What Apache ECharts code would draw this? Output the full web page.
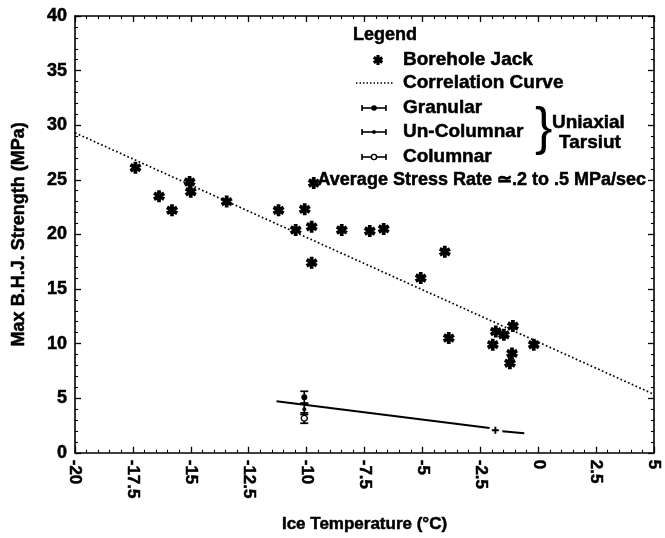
<!DOCTYPE html>
<html><head><meta charset="utf-8">
<script src="https://cdn.jsdelivr.net/npm/echarts@6/dist/echarts.min.js"></script>
<style>html,body{margin:0;padding:0;background:#fff}#c{width:665px;height:538px}</style>
</head><body><div id="c"></div>
<script>
// ---- data ----
const xTicks = [-20, -17.5, -15, -12.5, -10, -7.5, -5, -2.5, 0, 2.5, 5];
const yTicks = [0, 5, 10, 15, 20, 25, 30, 35, 40];
const boreholeT = [-17.39, -16.37, -15.81, -15.05, -15.0, -13.45, -11.21, -10.47, -10.08, -9.78, -9.69, -9.78, -8.48, -7.27, -6.67, -5.07, -4.03, -3.86, -1.96, -1.83, -1.48, -1.09, -1.13, -1.22, -0.19];
const boreholeS = [26.1, 23.5, 22.2, 24.8, 23.9, 23.0, 22.2, 20.4, 22.3, 20.7, 24.7, 17.4, 20.4, 20.3, 20.5, 16.0, 18.4, 10.5, 9.9, 11.1, 10.8, 11.6, 9.1, 8.2, 9.9];
const corrT = [-20, 5];
const corrS = [29.3, 5.35];
const trend1T = [-11.3, -2.1];
const trend1S = [4.71, 2.27];
const trend2T = [-1.55, -0.6];
const trend2S = [1.97, 1.78];
const plusT = [-1.85];
const plusS = [2.06];
const uniaxialT = -10.1;
const granular = [5.08, 4.55, 5.63];   // value, low, high
const unColumnar = [3.98, 3.5, 4.5];
const columnar = [3.16, 2.7, 3.65];

const pairs = (a, b) => a.map((v, i) => [v, b[i]]);
const ASTER = 'path://M3.4 0L6.6 0L6.6 10L3.4 10Z M1.5 1.05L10.17 6.05L8.57 8.83L-0.1 3.83Z M10.17 3.95L1.5 8.95L-0.1 6.17L8.57 1.17Z';
const PLUS = 'path://M3.6 0L6.4 0L6.4 3.6L10 3.6L10 6.4L6.4 6.4L6.4 10L3.6 10L3.6 6.4L0 6.4L0 3.6L3.6 3.6Z';
const INK = '#000';
const FONT = '"Liberation Sans", Arial, sans-serif';

const chart = echarts.init(document.getElementById('c'), null, {renderer: 'canvas'});

const axisCommon = {
  type: 'value',
  axisLine: {show: true, onZero: false, lineStyle: {color: INK, width: 1.6}},
  axisTick: {show: true, inside: true, length: 6, lineStyle: {color: INK, width: 1.3}},
  minorTick: {show: true, splitNumber: 5, length: 3, lineStyle: {color: INK, width: 1.1}},
  splitLine: {show: false},
  minorSplitLine: {show: false}
};

const ebData = [
  [uniaxialT, granular[1], granular[2]],
  [uniaxialT, unColumnar[1], unColumnar[2]],
  [uniaxialT, columnar[1], columnar[2]]
];

const legendX = 356, legendTextX = 403;
function ebIcon(y, kind) {
  const els = [
    {type: 'line', shape: {x1: 362, y1: y, x2: 386, y2: y}, style: {stroke: INK, lineWidth: 1.6}},
    {type: 'line', shape: {x1: 362, y1: y - 3, x2: 362, y2: y + 3}, style: {stroke: INK, lineWidth: 1.6}},
    {type: 'line', shape: {x1: 386, y1: y - 3, x2: 386, y2: y + 3}, style: {stroke: INK, lineWidth: 1.6}}
  ];
  if (kind === 'filled') els.push({type: 'circle', shape: {cx: 374, cy: y, r: 2.8}, style: {fill: INK}});
  if (kind === 'small') els.push({type: 'circle', shape: {cx: 374, cy: y, r: 1.9}, style: {fill: INK}});
  if (kind === 'open') els.push({type: 'circle', shape: {cx: 374, cy: y, r: 2.6}, style: {fill: '#fff', stroke: INK, lineWidth: 1.4}});
  return els;
}
function asteriskIcon(cx, cy, s) {
  const base = [
    [[3.4, 0], [6.6, 0], [6.6, 10], [3.4, 10]],
    [[1.5, 1.05], [10.17, 6.05], [8.57, 8.83], [-0.1, 3.83]],
    [[10.17, 3.95], [1.5, 8.95], [-0.1, 6.17], [8.57, 1.17]]
  ];
  return base.map(poly => ({type: 'polygon',
    shape: {points: poly.map(p => [cx + (p[0] - 5) * s / 10, cy + (p[1] - 5) * s / 10])},
    style: {fill: INK}}));
}
const txt = (x, y, s, size, align) => ({type: 'text', x: x, y: y,
  style: {text: s, fill: INK, font: 'bold ' + size + 'px ' + FONT,
    stroke: INK, lineWidth: 0.5,
    align: align || 'left', textAlign: align || 'left', verticalAlign: 'middle', textVerticalAlign: 'middle'}});

const graphics = [
  txt(353, 35, 'Legend', 18),
  ...asteriskIcon(378, 60, 10),
  txt(legendTextX, 60, 'Borehole Jack', 19),
  {type: 'line', shape: {x1: legendX, y1: 83, x2: 394, y2: 83}, style: {stroke: INK, lineWidth: 1.5, lineDash: [1.5, 2]}},
  txt(legendTextX, 83, 'Correlation Curve', 19),
  ...ebIcon(108, 'filled'),
  txt(legendTextX, 108, 'Granular', 19),
  ...ebIcon(132, 'small'),
  txt(legendTextX, 132, 'Un-Columnar', 19),
  ...ebIcon(157, 'open'),
  txt(legendTextX, 157, 'Columnar', 19),
  {type: 'text', x: 535, y: 130, style: {text: '}', fill: INK, font: 'normal 52px ' + FONT,
    align: 'left', textAlign: 'left', verticalAlign: 'middle', textVerticalAlign: 'middle'}},
  txt(552, 123, 'Uniaxial', 19),
  txt(559, 143, 'Tarsiut', 19),
  txt(646, 180, 'Average Stress Rate \u2243.2 to .5 MPa/sec', 18, 'right')
];

const labelStyle = {color: INK, fontFamily: FONT, fontWeight: 'bold', textBorderColor: INK, textBorderWidth: 0.5};

const option = {
  backgroundColor: '#fff',
  animation: false,
  grid: {left: 75, top: 16, width: 579, height: 437},
  xAxis: [
    Object.assign({}, axisCommon, {
      position: 'bottom', min: -20, max: 5, interval: 2.5,
      axisLabel: Object.assign({show: true, rotate: -90, margin: 7, fontSize: 17, formatter: v => String(v)}, labelStyle),
      name: 'Ice Temperature (\u00B0C)', nameLocation: 'middle', nameGap: 63,
      nameTextStyle: Object.assign({fontSize: 17}, labelStyle)
    }),
    Object.assign({}, axisCommon, {position: 'top', min: -20, max: 5, interval: 2.5, axisLabel: {show: false}})
  ],
  yAxis: [
    Object.assign({}, axisCommon, {
      position: 'left', min: 0, max: 40, interval: 5,
      axisLabel: Object.assign({show: true, margin: 8, fontSize: 18}, labelStyle),
      name: 'Max B.H.J. Strength (MPa)', nameLocation: 'middle', nameGap: 47,
      nameTextStyle: Object.assign({fontSize: 18}, labelStyle)
    }),
    Object.assign({}, axisCommon, {position: 'right', min: 0, max: 40, interval: 5, axisLabel: {show: false}})
  ],
  series: [
    {name: 'Correlation Curve', type: 'line', data: pairs(corrT, corrS), symbol: 'none',
      lineStyle: {color: INK, width: 1.7, type: [1.7, 2.4]}, z: 2},
    {name: 'Uniaxial trend', type: 'line', data: pairs(trend1T, trend1S), symbol: 'none',
      lineStyle: {color: INK, width: 2}, z: 2},
    {name: 'Uniaxial trend 2', type: 'line', data: pairs(trend2T, trend2S), symbol: 'none',
      lineStyle: {color: INK, width: 2}, z: 2},
    {name: 'Plus', type: 'scatter', data: pairs(plusT, plusS), symbol: PLUS, symbolSize: 7,
      itemStyle: {color: INK, opacity: 1}, z: 3},
    {name: 'Borehole Jack', type: 'scatter', data: pairs(boreholeT, boreholeS), symbol: ASTER, symbolSize: 12,
      itemStyle: {color: INK, opacity: 1}, z: 4},
    {name: 'Error bars', type: 'custom', data: ebData, z: 3,
      renderItem: function (params, api) {
        const x = api.value(0);
        const lo = api.coord([x, api.value(1)]);
        const hi = api.coord([x, api.value(2)]);
        const w = 4;
        return {type: 'group', children: [
          {type: 'line', shape: {x1: lo[0], y1: lo[1], x2: hi[0], y2: hi[1]}, style: {stroke: INK, lineWidth: 1.7}},
          {type: 'line', shape: {x1: lo[0] - w, y1: lo[1], x2: lo[0] + w, y2: lo[1]}, style: {stroke: INK, lineWidth: 1.7}},
          {type: 'line', shape: {x1: hi[0] - w, y1: hi[1], x2: hi[0] + w, y2: hi[1]}, style: {stroke: INK, lineWidth: 1.7}}
        ]};
      }},
    {name: 'Granular', type: 'scatter', data: [[uniaxialT, granular[0]]], symbol: 'circle', symbolSize: 6,
      itemStyle: {color: INK, opacity: 1}, z: 5},
    {name: 'Un-Columnar', type: 'scatter', data: [[uniaxialT, unColumnar[0]]], symbol: 'circle', symbolSize: 4,
      itemStyle: {color: INK, opacity: 1}, z: 5},
    {name: 'Columnar', type: 'scatter', data: [[uniaxialT, columnar[0]]], symbol: 'circle', symbolSize: 6,
      itemStyle: {color: '#fff', borderColor: INK, borderWidth: 1.4, opacity: 1}, z: 5}
  ],
  graphic: graphics
};
chart.setOption(option);
</script>
</body></html>
